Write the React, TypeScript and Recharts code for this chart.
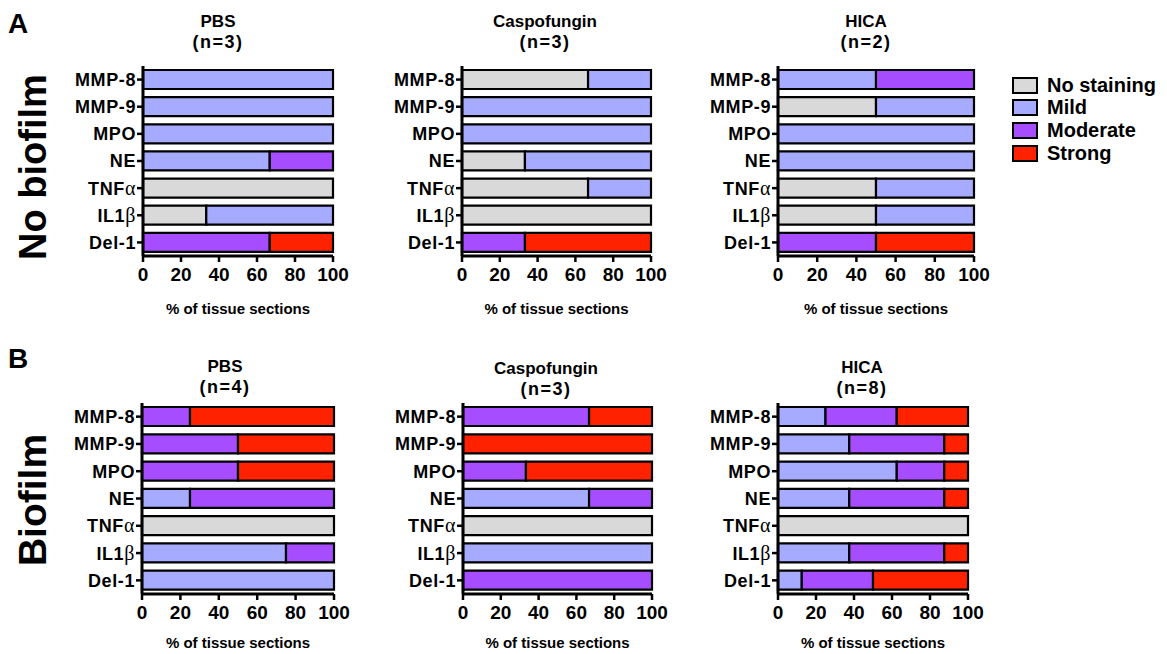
import React from 'react';
import { BarChart, Bar, XAxis, YAxis, Label } from 'recharts';

const markers = ['MMP-8', 'MMP-9', 'MPO', 'NE', 'TNFα', 'IL1β', 'Del-1'];
const stainLevels = ['No staining', 'Mild', 'Moderate', 'Strong'];
const stainColors = ['#d9d9d9', '#a7abff', '#a64dff', '#ff2200'];
const xTicks = [0, 20, 40, 60, 80, 100];

const treatments = ['PBS', 'Caspofungin', 'HICA'];
const nNoBiofilm = [3, 3, 2];
const nBiofilm = [4, 3, 8];

// each row: [no staining, mild, moderate, strong] in % of tissue sections, one per marker
const pbsNoBiofilm = [[0, 100, 0, 0], [0, 100, 0, 0], [0, 100, 0, 0], [0, 66.7, 33.3, 0], [100, 0, 0, 0], [33.3, 66.7, 0, 0], [0, 0, 66.7, 33.3]];
const caspoNoBiofilm = [[66.7, 33.3, 0, 0], [0, 100, 0, 0], [0, 100, 0, 0], [33.3, 66.7, 0, 0], [66.7, 33.3, 0, 0], [100, 0, 0, 0], [0, 0, 33.3, 66.7]];
const hicaNoBiofilm = [[0, 50, 50, 0], [50, 50, 0, 0], [0, 100, 0, 0], [0, 100, 0, 0], [50, 50, 0, 0], [50, 50, 0, 0], [0, 0, 50, 50]];
const pbsBiofilm = [[0, 0, 25, 75], [0, 0, 50, 50], [0, 0, 50, 50], [0, 25, 75, 0], [100, 0, 0, 0], [0, 75, 25, 0], [0, 100, 0, 0]];
const caspoBiofilm = [[0, 0, 66.7, 33.3], [0, 0, 0, 100], [0, 0, 33.3, 66.7], [0, 66.7, 33.3, 0], [100, 0, 0, 0], [0, 100, 0, 0], [0, 0, 100, 0]];
const hicaBiofilm = [[0, 25, 37.5, 37.5], [0, 37.5, 50, 12.5], [0, 62.5, 25, 12.5], [0, 37.5, 50, 12.5], [100, 0, 0, 0], [0, 37.5, 50, 12.5], [0, 12.5, 37.5, 50]];

const FONT = '"Liberation Sans", Arial, Helvetica, sans-serif';

// plot boxes in page pixels
const panels = [
  { rows: pbsNoBiofilm, title: treatments[0], n: nNoBiofilm[0], left: 143, right: 333, top: 66, bottom: 256, titleX: 218, titleY: 21, labelOffset: 2 },
  { rows: caspoNoBiofilm, title: treatments[1], n: nNoBiofilm[1], left: 462, right: 651, top: 66, bottom: 256, titleX: 545, titleY: 21, labelOffset: 2 },
  { rows: hicaNoBiofilm, title: treatments[2], n: nNoBiofilm[2], left: 778, right: 974, top: 66, bottom: 256, titleX: 866, titleY: 21, labelOffset: 2 },
  { rows: pbsBiofilm, title: treatments[0], n: nBiofilm[0], left: 142, right: 334, top: 403, bottom: 594, titleX: 225, titleY: 366, labelOffset: 6 },
  { rows: caspoBiofilm, title: treatments[1], n: nBiofilm[1], left: 463, right: 652, top: 403, bottom: 594, titleX: 546, titleY: 368, labelOffset: 6 },
  { rows: hicaBiofilm, title: treatments[2], n: nBiofilm[2], left: 778, right: 968, top: 403, bottom: 594, titleX: 862, titleY: 367, labelOffset: 6 },
];

const CategoryTick = (props: any) => {
  const { x, y, payload } = props;
  const v: string = payload.value;
  const last = v.slice(-1);
  const greek = last === 'α' || last === 'β';
  return (
    <text x={x} y={y} dy="0.36em" textAnchor="end" fontSize={18} fontWeight="bold" fill="#000" fontFamily={FONT} letterSpacing={0.6}>
      {greek ? (
        <>
          {v.slice(0, -1)}
          <tspan fontWeight="normal" fontFamily='"Liberation Serif", "DejaVu Serif", serif' fontSize={20}>{last}</tspan>
        </>
      ) : v}
    </text>
  );
};

const Y_AXIS_W = 140;
const M_TOP = 10;
const M_RIGHT = 30;
const X_AXIS_H = 60;

const Panel = ({ p }: { p: typeof panels[number] }) => {
  const table = markers.map((m, i) => ({
    marker: m,
    s0: p.rows[i][0],
    s1: p.rows[i][1],
    s2: p.rows[i][2],
    s3: p.rows[i][3],
  }));
  const width = Y_AXIS_W + (p.right - p.left) + M_RIGHT;
  const height = M_TOP + (p.bottom - p.top) + X_AXIS_H;
  return (
    <div style={{ position: 'absolute', left: p.left - Y_AXIS_W, top: p.top - M_TOP }}>
      <BarChart
        layout="vertical"
        width={width}
        height={height}
        data={table}
        margin={{ top: M_TOP, right: M_RIGHT, bottom: 0, left: 0 }}
        barSize={19}
      >
        <XAxis
          type="number"
          domain={[0, 100]}
          ticks={xTicks}
          interval={0}
          height={X_AXIS_H}
          tickSize={6}
          tickMargin={6}
          axisLine={{ stroke: '#000', strokeWidth: 3 }}
          tickLine={{ stroke: '#000', strokeWidth: 2.5 }}
          tick={{ fontSize: 19, fontWeight: 'bold', fill: '#000', fontFamily: FONT }}
        >
          <Label
            value="% of tissue sections"
            position="insideBottom"
            offset={p.labelOffset}
            style={{ fontSize: 15, fontWeight: 'bold', fill: '#000', fontFamily: FONT }}
          />
        </XAxis>
        <YAxis
          type="category"
          dataKey="marker"
          width={Y_AXIS_W}
          interval={0}
          tickSize={6}
          tickMargin={1}
          axisLine={{ stroke: '#000', strokeWidth: 3 }}
          tickLine={{ stroke: '#000', strokeWidth: 2.5 }}
          tick={CategoryTick}
        />
        {stainLevels.map((s, k) => (
          <Bar
            key={s}
            dataKey={'s' + k}
            name={s}
            stackId="stain"
            fill={stainColors[k]}
            stroke="#000"
            strokeWidth={2.2}
            isAnimationActive={false}
          />
        ))}
      </BarChart>
    </div>
  );
};

export default function App() {
  const legendY = [85, 107, 130, 153];
  return (
    <div style={{ position: 'absolute', left: 0, top: 0, width: 1167, height: 654, overflow: 'hidden', background: '#fff' }}>
      {panels.map((p, i) => (
        <Panel key={i} p={p} />
      ))}
      <svg width={1167} height={654} style={{ position: 'absolute', left: 0, top: 0, pointerEvents: 'none' }} fontFamily={FONT} fontWeight="bold">
        <text x={8} y={33} fontSize={28}>A</text>
        <text x={8} y={368} fontSize={28}>B</text>
        <text x={46} y={167} fontSize={38} textAnchor="middle" transform="rotate(-90 46 167)">No biofilm</text>
        <text x={46} y={500} fontSize={39} textAnchor="middle" transform="rotate(-90 46 500)">Biofilm</text>
        {panels.map((p, i) => (
          <g key={i}>
            <text x={p.titleX} y={p.titleY} fontSize={17} textAnchor="middle" dominantBaseline="central">{p.title}</text>
            <text x={p.titleX} y={p.titleY + 21} fontSize={18} textAnchor="middle" dominantBaseline="central" letterSpacing={1.5}>{`(n=${p.n})`}</text>
          </g>
        ))}
        {stainLevels.map((s, k) => (
          <g key={s}>
            <rect x={1013} y={legendY[k] - 7} width={24} height={15} fill={stainColors[k]} stroke="#000" strokeWidth={2} />
            <text x={1047} y={legendY[k]} fontSize={20} dominantBaseline="central">{s}</text>
          </g>
        ))}
      </svg>
    </div>
  );
}
